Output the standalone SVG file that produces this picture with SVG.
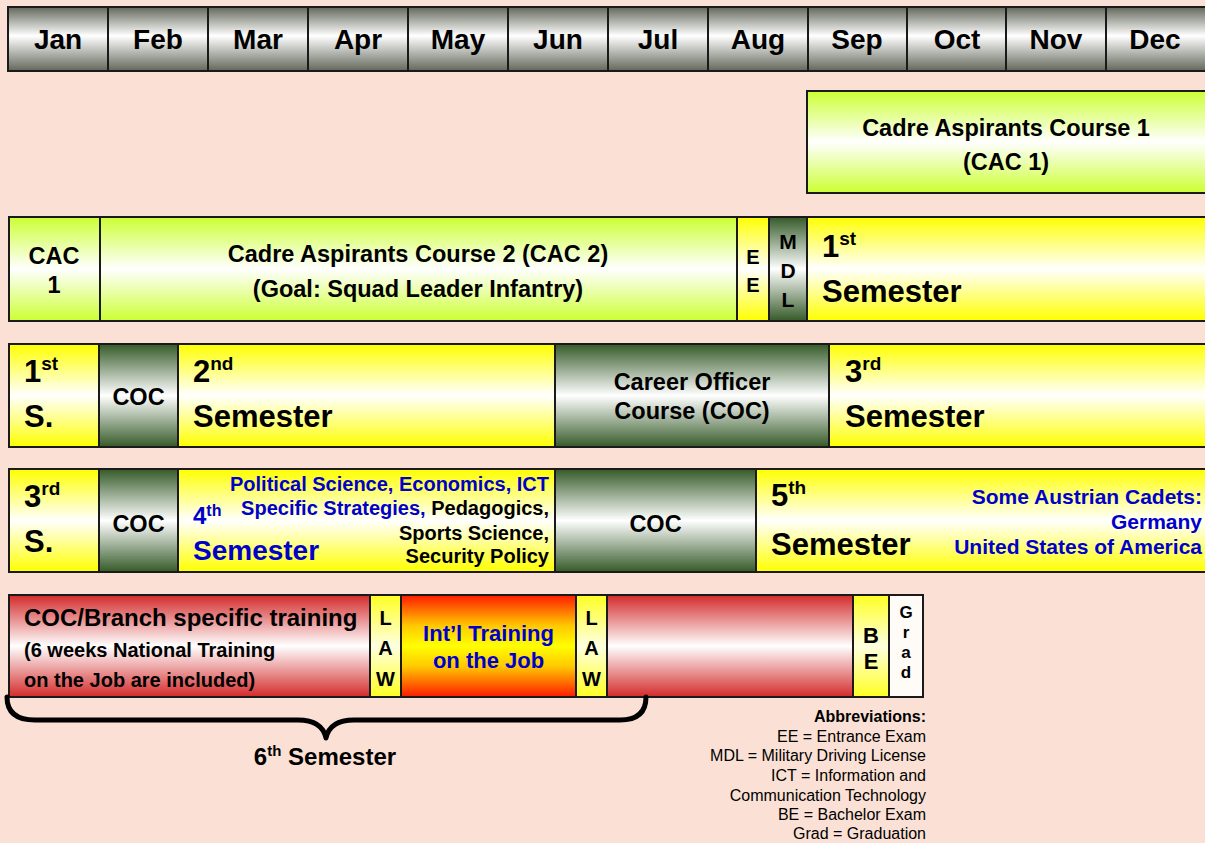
<svg xmlns="http://www.w3.org/2000/svg" width="1205" height="843" viewBox="0 0 1205 843">
<defs>
<linearGradient id="gHead" x1="0" y1="0" x2="0" y2="1"><stop offset="0" stop-color="#62675A"/><stop offset="0.45" stop-color="#FFFFFF"/><stop offset="1" stop-color="#62675A"/></linearGradient>
<linearGradient id="gGreen" x1="0" y1="0" x2="0" y2="1"><stop offset="0" stop-color="#CCFF33"/><stop offset="0.5" stop-color="#FFFFFF"/><stop offset="1" stop-color="#CCFF33"/></linearGradient>
<linearGradient id="gYellow" x1="0" y1="0" x2="0" y2="1"><stop offset="0" stop-color="#FFFF00"/><stop offset="0.5" stop-color="#FFFFFF"/><stop offset="1" stop-color="#FFFF00"/></linearGradient>
<linearGradient id="gLight" x1="0" y1="0" x2="0" y2="1"><stop offset="0" stop-color="#FFFF22"/><stop offset="0.5" stop-color="#FFFFE0"/><stop offset="1" stop-color="#FFFF22"/></linearGradient>
<linearGradient id="gDark" x1="0" y1="0" x2="0" y2="1"><stop offset="0" stop-color="#355A28"/><stop offset="0.5" stop-color="#FFFFFF"/><stop offset="1" stop-color="#355A28"/></linearGradient>
<linearGradient id="gRed" x1="0" y1="0" x2="0" y2="1"><stop offset="0" stop-color="#D42A2A"/><stop offset="0.5" stop-color="#FFFFFF"/><stop offset="1" stop-color="#D42A2A"/></linearGradient>
<linearGradient id="gOrange" x1="0" y1="0" x2="0" y2="1"><stop offset="0" stop-color="#FF1A00"/><stop offset="0.3" stop-color="#FFC800"/><stop offset="0.5" stop-color="#FFFF00"/><stop offset="0.7" stop-color="#FFC800"/><stop offset="1" stop-color="#FF1A00"/></linearGradient>
</defs>
<style>
text{font-family:"Liberation Sans",Arial,sans-serif;font-weight:bold;fill:#000}
.box{stroke:#1a1a1a;stroke-width:2}
.m{font-size:28px;text-anchor:middle}
.c{text-anchor:middle}
.e{text-anchor:end}
.blue{fill:#0000CC}
.t{font-size:23.5px}
.big{font-size:31px}
.sup{font-size:19px}
.ab{font-weight:normal;font-size:16px;text-anchor:end}
</style>
<rect width="1205" height="843" fill="#FBE1D5"/>

<g id="header">
<rect x="8" y="7" width="1210" height="64" fill="url(#gHead)" class="box"/>
<g stroke="#1a1a1a" stroke-width="2">
<line x1="108" y1="7" x2="108" y2="71"/><line x1="208" y1="7" x2="208" y2="71"/><line x1="308" y1="7" x2="308" y2="71"/><line x1="408" y1="7" x2="408" y2="71"/><line x1="508" y1="7" x2="508" y2="71"/><line x1="608" y1="7" x2="608" y2="71"/><line x1="708" y1="7" x2="708" y2="71"/><line x1="808" y1="7" x2="808" y2="71"/><line x1="907" y1="7" x2="907" y2="71"/><line x1="1006" y1="7" x2="1006" y2="71"/><line x1="1106" y1="7" x2="1106" y2="71"/>
</g>
<text class="m" x="58" y="49">Jan</text><text class="m" x="158" y="49">Feb</text><text class="m" x="258" y="49">Mar</text><text class="m" x="358" y="49">Apr</text><text class="m" x="458" y="49">May</text><text class="m" x="558" y="49">Jun</text><text class="m" x="658" y="49">Jul</text><text class="m" x="758" y="49">Aug</text><text class="m" x="857" y="49">Sep</text><text class="m" x="957" y="49">Oct</text><text class="m" x="1056" y="49">Nov</text><text class="m" x="1155" y="49">Dec</text>
</g>

<g id="cac1-top">
<rect x="807" y="91" width="405" height="102" fill="url(#gGreen)" class="box"/>
<text class="c t" x="1006" y="136">Cadre Aspirants Course 1</text>
<text class="c t" x="1006" y="170">(CAC 1)</text>
</g>

<g id="row2-cac1">
<rect x="9" y="217" width="91" height="104" fill="url(#gGreen)" class="box"/>
<text class="c t" x="54" y="264">CAC</text><text class="c t" x="54" y="293">1</text>
</g>
<g id="row2-cac2">
<rect x="100" y="217" width="637" height="104" fill="url(#gGreen)" class="box"/>
<text class="c t" x="418" y="262">Cadre Aspirants Course 2 (CAC 2)</text>
<text class="c t" x="418" y="297">(Goal:  Squad Leader Infantry)</text>
</g>
<g id="row2-ee">
<rect x="737" y="217" width="32" height="104" fill="url(#gYellow)" class="box"/>
<text class="c" font-size="20"><tspan x="753" y="264">E</tspan><tspan x="753" y="292">E</tspan></text>
</g>
<g id="row2-mdl">
<rect x="769" y="217" width="38" height="104" fill="url(#gDark)" class="box"/>
<text class="c" font-size="21"><tspan x="788" y="249">M</tspan><tspan x="788" y="278">D</tspan><tspan x="788" y="307">L</tspan></text>
</g>
<g id="row2-sem1">
<rect x="807" y="217" width="405" height="104" fill="url(#gYellow)" class="box"/>
<text class="big" x="822" y="257">1<tspan class="sup" dy="-12">st</tspan></text>
<text class="big" x="822" y="302">Semester</text>
</g>

<g id="row3-s1">
<rect x="9" y="344" width="90" height="103" fill="url(#gYellow)" class="box"/>
<text class="big" x="24" y="382">1<tspan class="sup" dy="-12">st</tspan></text>
<text class="big" x="24" y="427">S.</text>
</g>
<g id="row3-coc">
<rect x="99" y="344" width="79" height="103" fill="url(#gDark)" class="box"/>
<text class="c t" x="138.5" y="405">COC</text>
</g>
<g id="row3-sem2">
<rect x="178" y="344" width="377" height="103" fill="url(#gYellow)" class="box"/>
<text class="big" x="193" y="382">2<tspan class="sup" dy="-12">nd</tspan></text>
<text class="big" x="193" y="427">Semester</text>
</g>
<g id="row3-coc-course">
<rect x="555" y="344" width="274" height="103" fill="url(#gDark)" class="box"/>
<text class="c t" x="692" y="390">Career Officer</text>
<text class="c t" x="692" y="419">Course (COC)</text>
</g>
<g id="row3-sem3">
<rect x="829" y="344" width="383" height="103" fill="url(#gYellow)" class="box"/>
<text class="big" x="845" y="382">3<tspan class="sup" dy="-12">rd</tspan></text>
<text class="big" x="845" y="427">Semester</text>
</g>

<g id="row4-s3">
<rect x="9" y="469" width="90" height="103" fill="url(#gYellow)" class="box"/>
<text class="big" x="24" y="507">3<tspan class="sup" dy="-12">rd</tspan></text>
<text class="big" x="24" y="552">S.</text>
</g>
<g id="row4-coc1">
<rect x="99" y="469" width="79" height="103" fill="url(#gDark)" class="box"/>
<text class="c t" x="138.5" y="532">COC</text>
</g>
<g id="row4-sem4">
<rect x="178" y="469" width="377" height="103" fill="url(#gYellow)" class="box"/>
<text class="blue" font-size="24" x="193" y="524">4<tspan font-size="16" dy="-8">th</tspan></text>
<text class="blue" font-size="28" x="193" y="560">Semester</text>
<text class="e blue" font-size="20" x="549" y="491">Political Science, Economics, ICT</text>
<text class="e" font-size="20" x="549" y="515"><tspan class="blue">Specific Strategies,</tspan> Pedagogics,</text>
<text class="e" font-size="20" x="549" y="540">Sports Science,</text>
<text class="e" font-size="20" x="549" y="563">Security Policy</text>
</g>
<g id="row4-coc2">
<rect x="555" y="469" width="201" height="103" fill="url(#gDark)" class="box"/>
<text class="c t" x="655.5" y="532">COC</text>
</g>
<g id="row4-sem5">
<rect x="756" y="469" width="456" height="103" fill="url(#gYellow)" class="box"/>
<text class="big" x="771" y="506">5<tspan class="sup" dy="-12">th</tspan></text>
<text class="big" x="771" y="555">Semester</text>
<text class="e blue" font-size="21" x="1202" y="504">Some Austrian Cadets:</text>
<text class="e blue" font-size="21" x="1202" y="529">Germany</text>
<text class="e blue" font-size="21" x="1202" y="554">United States of America</text>
</g>

<g id="row5-branch">
<rect x="9" y="595" width="361" height="102" fill="url(#gRed)" class="box"/>
<text font-size="24" x="24" y="626">COC/Branch specific training</text>
<text font-size="20" x="24" y="657">(6 weeks National Training</text>
<text font-size="20" x="24" y="687">on the Job are included)</text>
</g>
<g id="row5-law1">
<rect x="370" y="595" width="31" height="102" fill="url(#gLight)" class="box"/>
<text class="c" font-size="20"><tspan x="385.5" y="625">L</tspan><tspan x="385.5" y="655">A</tspan><tspan x="385.5" y="686">W</tspan></text>
</g>
<g id="row5-intl">
<rect x="401" y="595" width="175" height="102" fill="url(#gOrange)" class="box"/>
<text class="c blue" font-size="22" x="488.5" y="641">Int’l  Training</text>
<text class="c blue" font-size="22" x="488.5" y="668">on the Job</text>
</g>
<g id="row5-law2">
<rect x="576" y="595" width="31" height="102" fill="url(#gLight)" class="box"/>
<text class="c" font-size="20"><tspan x="591.5" y="625">L</tspan><tspan x="591.5" y="655">A</tspan><tspan x="591.5" y="686">W</tspan></text>
</g>
<g id="row5-red2">
<rect x="607" y="595" width="246" height="102" fill="url(#gRed)" class="box"/>
</g>
<g id="row5-be">
<rect x="853" y="595" width="36" height="102" fill="url(#gLight)" class="box"/>
<text class="c" font-size="22"><tspan x="871" y="643">B</tspan><tspan x="871" y="669">E</tspan></text>
</g>
<g id="row5-grad">
<rect x="889" y="595" width="34" height="102" fill="#FFFBF7" class="box"/>
<text class="c" font-size="17"><tspan x="906" y="618">G</tspan><tspan x="906" y="638">r</tspan><tspan x="906" y="658">a</tspan><tspan x="906" y="678">d</tspan></text>
</g>

<g id="connectors">
<path d="M 7 697 Q 7 720 35 720 L 298 720 Q 322 720 326 738 Q 330 720 354 720 L 620 720 Q 646 720 646 697" fill="none" stroke="#000" stroke-width="5" stroke-linecap="round" stroke-linejoin="round"/>
</g>
<g id="sixth-label">
<text class="c" font-size="24" x="325" y="765">6<tspan font-size="15" dy="-9">th</tspan><tspan dy="9"> Semester</tspan></text>
</g>

<g id="abbreviations">
<text class="e" font-size="16" x="926" y="722">Abbreviations:</text>
<text class="ab" x="926" y="742">EE = Entrance Exam</text>
<text class="ab" x="926" y="761">MDL = Military Driving License</text>
<text class="ab" x="926" y="781">ICT = Information and</text>
<text class="ab" x="926" y="801">Communication Technology</text>
<text class="ab" x="926" y="820">BE = Bachelor Exam</text>
<text class="ab" x="926" y="839">Grad = Graduation</text>
</g>
</svg>
